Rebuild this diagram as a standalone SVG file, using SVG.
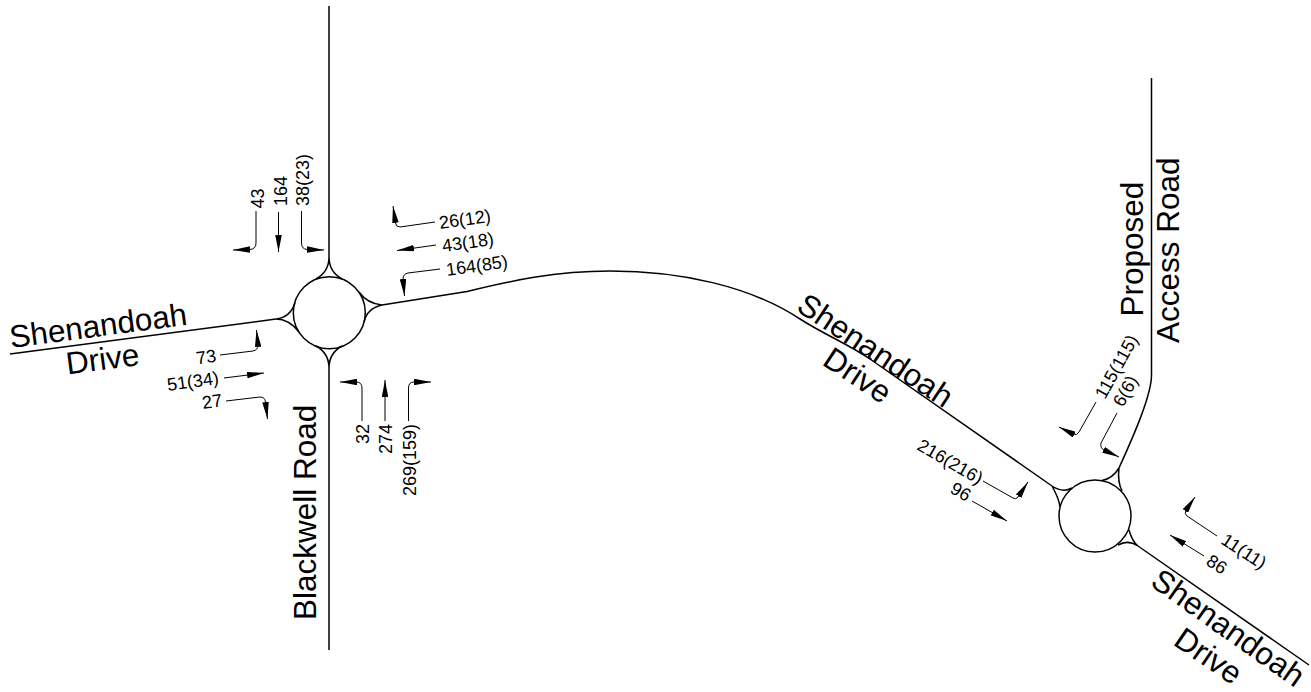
<svg xmlns="http://www.w3.org/2000/svg" width="1311" height="692" viewBox="0 0 1311 692">
<style>
.r{fill:none;stroke:#000;stroke-width:1.500}
.a{fill:none;stroke:#000;stroke-width:1}
text{font-family:"Liberation Sans",Arial,sans-serif;fill:#000}
.n{font-size:18px}
.l{font-size:31.500px}
</style>
<defs>
<marker id="h" markerUnits="userSpaceOnUse" markerWidth="17" markerHeight="6.500" refX="17" refY="3.250" orient="auto" viewBox="0 0 17 6.500"><path d="M0 0L17 3.250L0 6.500Z" fill="#000"/></marker>
</defs>
<rect width="1311" height="692" fill="#fff"/>
<g id="roads">
<path class="r" d="M329 6V257M329 368V650"/>
<path class="r" d="M10 354L276 319"/>
<path class="r" d="M382 305L467 291.500C510 281 555 271 610 271C680 271 750 286 800 319C825 335 848 344 870 359L1052 486"/>
<path class="r" d="M1151.500 78V375C1151.500 395 1134 435 1119 468"/>
<path class="r" d="M1138 546L1309 665"/>
</g>
<g id="roundabout-west">
<circle class="r" cx="329.300" cy="312.700" r="36"/>
<path class="r" d="M329 257C329 267 325 274 316 279M329 257C329 267 333 274 342 279"/>
<path class="r" d="M382 305C372 304 364 299 359 292M382 305C373 307 366 313 364 322"/>
<path class="r" d="M276 319C285 318 292 312 295 303M276 319C285 319 292 323 299 332"/>
<path class="r" d="M329 368C329 358 325 351 316 346M329 368C329 358 333 351 342 346"/>
</g>
<g id="roundabout-east">
<circle class="r" cx="1095" cy="516" r="36"/>
<path class="r" d="M1052 486C1058 490 1065 492 1072 488M1052 486C1055 492 1059 498 1060 507"/>
<path class="r" d="M1119 468C1116 473 1110 479 1102 480.500M1119 468C1118 476 1118 483 1122 491"/>
<path class="r" d="M1138 546C1134 543 1131 537 1129 530M1138 546C1132 542 1125 541 1118 545"/>
</g>
<g id="connectors">
<path class="a" marker-end="url(#h)" d="M256 211V243Q256 249 250 249.500L233 250"/>
<path class="a" marker-end="url(#h)" d="M278.500 212V252"/>
<path class="a" marker-end="url(#h)" d="M301.500 211V243Q301.500 249 307 249.500L324 250"/>
<path class="a" marker-end="url(#h)" d="M435 222L400 227Q396 227 395.500 223L393 206"/>
<path class="a" marker-end="url(#h)" d="M436 245L397 250.500"/>
<path class="a" marker-end="url(#h)" d="M440 269L408 273Q403 274 403 279L404.500 296"/>
<path class="a" marker-end="url(#h)" d="M220 355L253 351Q258 350 258 345L256.500 330"/>
<path class="a" marker-end="url(#h)" d="M224 378L264 373"/>
<path class="a" marker-end="url(#h)" d="M226 401L260 397Q265 397 265.500 402L267.500 419"/>
<path class="a" marker-end="url(#h)" d="M362 421V388Q362 382 356 382L340 382"/>
<path class="a" marker-end="url(#h)" d="M385 421V380"/>
<path class="a" marker-end="url(#h)" d="M408.500 421V388Q408.500 382 414 382L431 382"/>
<path class="a" marker-end="url(#h)" d="M983 481L1013 498Q1016 500 1018 497L1028 482"/>
<path class="a" marker-end="url(#h)" d="M972 501L1007 521"/>
<path class="a" marker-end="url(#h)" d="M1096 402L1079 432Q1077 436 1073 434L1059 427"/>
<path class="a" marker-end="url(#h)" d="M1117 413L1101 443Q1100 448 1104 450L1119 457"/>
<path class="a" marker-end="url(#h)" d="M1217 536L1187 516Q1184 514 1186 510L1195 497"/>
<path class="a" marker-end="url(#h)" d="M1204 556L1170 535"/>
</g>
<g id="labels">
<text class="l" transform="translate(11 348) rotate(-7.500)">Shenandoah</text>
<text class="l" transform="translate(67.500 374.500) rotate(-7.500)">Drive</text>
<text class="l" transform="translate(316 620) rotate(-90)">Blackwell Road</text>
<text class="l" transform="translate(1143 316.500) rotate(-90)">Proposed</text>
<text class="l" transform="translate(1179 343) rotate(-90)">Access Road</text>
<text class="l" transform="translate(795 310) rotate(33.500)">Shenandoah</text>
<text class="l" transform="translate(821 364) rotate(33.500)">Drive</text>
<text class="l" transform="translate(1149 585) rotate(35.200)">Shenandoah</text>
<text class="l" transform="translate(1172 644) rotate(34.500)">Drive</text>
<text class="n" transform="translate(264 208.500) rotate(-90)">43</text>
<text class="n" transform="translate(286.500 206) rotate(-90)">164</text>
<text class="n" transform="translate(308.500 206) rotate(-90)">38(23)</text>
<text class="n" transform="translate(440 229) rotate(-8)">26(12)</text>
<text class="n" transform="translate(443 252) rotate(-8)">43(18)</text>
<text class="n" transform="translate(447 276) rotate(-8)">164(85)</text>
<text class="n" transform="translate(197 364.500) rotate(-8)">73</text>
<text class="n" transform="translate(168 391) rotate(-8)">51(34)</text>
<text class="n" transform="translate(203 409) rotate(-8)">27</text>
<text class="n" transform="translate(368.500 444) rotate(-90)">32</text>
<text class="n" transform="translate(392 454) rotate(-90)">274</text>
<text class="n" transform="translate(415.500 496) rotate(-90)">269(159)</text>
<text class="n" transform="translate(916 449) rotate(30)">216(216)</text>
<text class="n" transform="translate(949 492) rotate(30)">96</text>
<text class="n" transform="translate(1105 400) rotate(-61)">115(115)</text>
<text class="n" transform="translate(1123 408) rotate(-61)">6(6)</text>
<text class="n" transform="translate(1220 543) rotate(33)">11(11)</text>
<text class="n" transform="translate(1205 564) rotate(33)">86</text>
</g>
</svg>
